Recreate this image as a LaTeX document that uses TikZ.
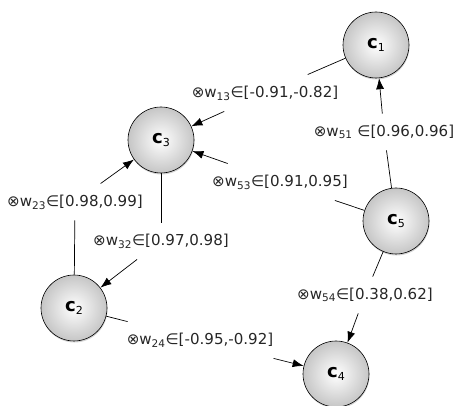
\documentclass[tikz,border=0pt]{standalone}
\usepackage{fontspec}
\setmainfont{DejaVu Sans}
\usepackage{tikz}
\usetikzlibrary{arrows,arrows.meta,shadows,positioning}

\newcommand{\conc}[1]{{\fontsize{18}{18}\selectfont\bfseries c}{\fontsize{11}{11}\selectfont\raisebox{-3pt}{#1}}}

\begin{document}
\begin{tikzpicture}[
	concept/.style={circle, draw, line width=0.6pt, minimum size=2.31cm, inner sep=0pt,
		shading=radial, inner color=white, outer color=gray!45,
		drop shadow={shadow xshift=0.5pt, shadow yshift=-1.5pt, opacity=0.35}},
	weight/.style={inner xsep=2pt, inner ysep=11pt, text=black!85, font=\fontsize{15}{15}\selectfont},
	wline/.style={line width=0.7pt},
	warrow/.style={line width=0.7pt, -{Latex[length=11pt,width=8pt]}}]

	\useasboundingbox (0,0) rectangle (15.96,14.21);

	% Concepts
	\node[concept] (c1) at (13.16,12.635) {\conc{1}};
	\node[concept] (c3) at (5.635,9.31) {\conc{3}};
	\node[concept] (c5) at (13.86,6.475) {\conc{5}};
	\node[concept] (c2) at (2.59,3.43) {\conc{2}};
	\node[concept] (c4) at (11.76,1.12) {\conc{4}};

	% Weights
	\node[weight] (w13) at (9.275,10.955) {⊗w\textsubscript{13}∈[-0.91,-0.82]};
	\node[weight] (w51) at (13.44,9.59) {⊗w\textsubscript{51} ∈[0.96,0.96]};
	\node[weight] (w53) at (9.8,7.84) {⊗w\textsubscript{53}∈[0.91,0.95]};
	\node[weight] (w23) at (2.625,7.14) {⊗w\textsubscript{23}∈[0.98,0.99]};
	\node[weight] (w32) at (5.635,5.775) {⊗w\textsubscript{32}∈[0.97,0.98]};
	\node[weight] (w24) at (7.0,2.31) {⊗w\textsubscript{24}∈[-0.95,-0.92]};
	\node[weight] (w54) at (12.775,3.885) {⊗w\textsubscript{54}∈[0.38,0.62]};

	% Links
	\draw[wline] (c1) -- (w13);
	\draw[warrow] (w13) -- (c3);
	\draw[wline] (c5) -- (w51);
	\draw[warrow] (w51) -- (c1);
	\draw[wline] (c5) -- (w53);
	\draw[warrow] (w53) -- (c3);
	\draw[wline] (c2) -- (w23);
	\draw[warrow] (w23) -- (c3);
	\draw[wline] (c3) -- (w32);
	\draw[warrow] (w32) -- (c2);
	\draw[wline] (c2) -- (w24);
	\draw[warrow] (w24) -- (c4);
	\draw[wline] (c5) -- (w54);
	\draw[warrow] (w54) -- (c4);
\end{tikzpicture}
\end{document}
